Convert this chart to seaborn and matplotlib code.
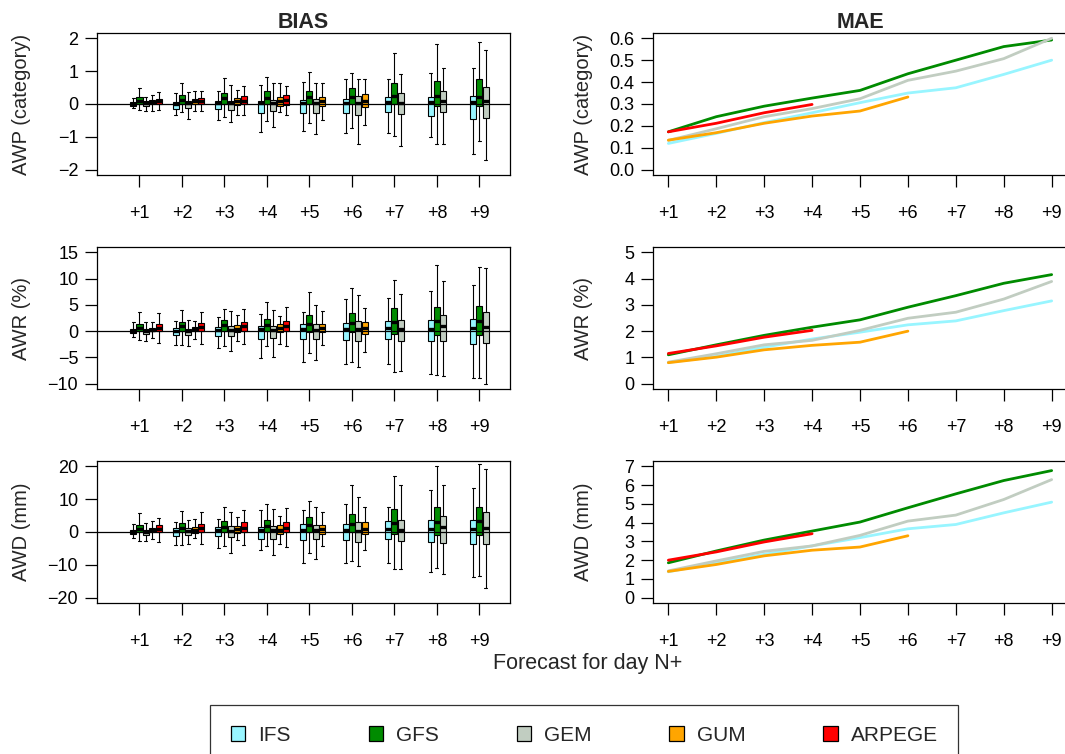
import pandas as pd
import matplotlib
matplotlib.use('Agg')
import matplotlib.pyplot as plt
from matplotlib.patches import Patch
import seaborn as sns

models = ['IFS', 'GFS', 'GEM', 'GUM', 'ARPEGE']
colors = ['#98F5FF', '#008B00', '#C1CDC1', '#FFA500', '#FF0000']
days = [1, 2, 3, 4, 5, 6, 7, 8, 9]
day_labels = ['+1', '+2', '+3', '+4', '+5', '+6', '+7', '+8', '+9']

# BIAS: (whisker low, q1, median, q3, whisker high) per forecast day
awp_ifs = [(-0.12, -0.05, 0.0, 0.05, 0.17), (-0.33, -0.14, 0.0, 0.07, 0.32), (-0.49, -0.16, 0.02, 0.10, 0.41),
           (-0.86, -0.28, 0.03, 0.10, 0.57), (-0.81, -0.26, 0.03, 0.12, 0.66), (-0.87, -0.28, 0.04, 0.14, 0.75),
           (-0.89, -0.24, 0.05, 0.20, 0.75), (-1.00, -0.38, 0.05, 0.20, 0.95), (-1.53, -0.47, 0.06, 0.25, 1.09)]
awp_gfs = [(-0.18, 0.0, 0.10, 0.22, 0.50), (-0.24, 0.0, 0.12, 0.27, 0.65), (-0.41, 0.0, 0.17, 0.33, 0.80),
           (-0.53, 0.0, 0.18, 0.39, 0.82), (-0.59, 0.0, 0.20, 0.40, 0.98), (-0.72, 0.0, 0.22, 0.50, 0.93),
           (-0.96, 0.0, 0.25, 0.63, 1.56), (-1.21, -0.06, 0.25, 0.71, 1.83), (-1.12, -0.07, 0.20, 0.75, 1.89)]
awp_gem = [(-0.20, -0.06, 0.02, 0.09, 0.22), (-0.46, -0.13, 0.02, 0.10, 0.38), (-0.56, -0.18, 0.02, 0.09, 0.58),
           (-0.69, -0.21, 0.03, 0.12, 0.63), (-0.91, -0.26, 0.04, 0.15, 0.65), (-1.23, -0.34, 0.04, 0.24, 0.75),
           (-1.27, -0.31, 0.04, 0.32, 0.92), (-1.21, -0.24, 0.08, 0.41, 1.09), (-1.71, -0.42, 0.10, 0.51, 1.64)]
awp_gum = [(-0.20, 0.0, 0.07, 0.12, 0.27), (-0.20, 0.0, 0.08, 0.14, 0.39), (-0.33, -0.03, 0.08, 0.17, 0.43),
           (-0.24, -0.06, 0.08, 0.22, 0.63), (-0.49, -0.06, 0.08, 0.22, 0.65), (-0.64, -0.08, 0.08, 0.30, 0.75)]
awp_arpege = [(-0.18, 0.0, 0.08, 0.14, 0.37), (-0.20, 0.0, 0.10, 0.17, 0.39), (-0.33, 0.0, 0.10, 0.23, 0.54),
              (-0.33, -0.03, 0.12, 0.27, 0.54)]

awr_ifs = [(-1.15, -0.4, 0.0, 0.45, 1.8), (-2.6, -0.75, 0.1, 0.55, 1.9), (-3.25, -0.9, 0.3, 0.75, 2.6),
           (-5.2, -1.5, 0.35, 1.0, 3.25), (-5.8, -1.5, 0.4, 1.4, 3.6), (-6.2, -1.65, 0.45, 1.55, 6.1),
           (-6.2, -1.4, 0.6, 1.9, 6.3), (-8.1, -1.9, 0.5, 2.15, 7.6), (-9.0, -2.35, 0.55, 2.35, 8.7)]
awr_gfs = [(-1.65, 0.0, 0.6, 1.4, 3.6), (-2.6, 0.0, 0.9, 1.8, 4.0), (-2.8, 0.0, 1.2, 2.1, 4.3),
           (-2.9, 0.0, 1.1, 2.3, 5.5), (-4.1, -0.1, 1.4, 3.0, 7.4), (-5.8, -0.25, 1.5, 3.45, 8.15),
           (-7.8, -0.5, 1.8, 4.4, 9.7), (-8.4, -0.8, 1.9, 4.6, 12.5), (-8.85, -0.75, 2.0, 4.7, 12.2)]
awr_gem = [(-1.8, -0.5, -0.05, 0.4, 1.8), (-2.9, -0.8, 0.1, 0.5, 2.1), (-3.75, -1.0, 0.3, 1.0, 3.8),
           (-4.9, -1.35, 0.3, 1.0, 3.95), (-5.5, -1.4, 0.3, 1.35, 4.9), (-6.9, -1.9, 0.35, 1.9, 6.9),
           (-7.65, -1.85, 0.35, 2.2, 7.0), (-8.6, -1.9, 0.95, 3.1, 9.5), (-10.0, -2.3, 0.75, 3.55, 12.0)]
awr_gum = [(-1.3, 0.0, 0.3, 0.6, 1.8), (-1.4, 0.0, 0.4, 0.75, 2.0), (-1.85, -0.2, 0.5, 1.1, 3.0),
           (-2.4, -0.25, 0.6, 1.3, 2.9), (-2.6, -0.25, 0.6, 1.3, 3.75), (-3.9, -0.5, 0.55, 1.8, 4.4)]
awr_arpege = [(-2.3, 0.0, 0.6, 1.3, 3.4), (-2.5, 0.0, 0.8, 1.5, 3.7), (-2.5, 0.0, 0.9, 1.8, 4.3),
              (-2.9, 0.0, 0.9, 1.9, 4.6)]

awd_ifs = [(-1.8, -0.6, 0.0, 0.7, 2.4), (-4.1, -1.1, 0.2, 1.1, 3.0), (-5.0, -1.3, 0.5, 1.4, 3.9),
           (-5.6, -2.1, 0.6, 1.5, 6.8), (-9.3, -2.4, 0.6, 2.3, 6.6), (-9.4, -2.4, 0.6, 2.4, 8.6),
           (-9.4, -2.0, 0.9, 3.4, 7.5), (-12.1, -3.0, 0.8, 3.5, 12.9), (-13.8, -3.6, 0.8, 3.7, 13.4)]
awd_gfs = [(-2.7, 0.0, 1.0, 2.2, 5.7), (-3.9, 0.0, 1.2, 2.7, 6.5), (-4.4, 0.0, 1.5, 3.3, 7.5),
           (-4.3, 0.0, 1.8, 3.7, 8.4), (-6.3, 0.0, 2.1, 4.7, 9.5), (-8.9, -0.1, 2.4, 5.5, 14.3),
           (-11.4, -0.6, 2.6, 7.0, 17.1), (-11.0, -0.9, 3.0, 7.5, 20.2), (-13.4, -0.9, 3.3, 7.7, 20.6)]
awd_gem = [(-2.7, -0.8, -0.1, 0.7, 2.7), (-3.6, -1.0, 0.2, 1.2, 3.5), (-6.3, -1.5, 0.4, 1.7, 6.2),
           (-6.9, -2.0, 0.5, 1.7, 7.0), (-8.1, -2.0, 0.5, 2.1, 7.7), (-10.2, -2.9, 0.4, 2.9, 10.5),
           (-11.4, -2.7, 0.6, 3.6, 14.3), (-12.9, -3.2, 1.5, 4.8, 14.3), (-17.0, -3.5, 1.3, 6.1, 19.2)]
awd_gum = [(-2.2, -0.1, 0.6, 1.1, 3.3), (-1.8, -0.3, 0.6, 1.4, 3.9), (-2.3, -0.3, 0.8, 1.7, 4.5),
           (-3.7, -0.6, 0.7, 2.0, 5.0), (-4.3, -0.6, 0.8, 2.1, 6.2), (-5.5, -0.6, 1.0, 3.0, 7.7)]
awd_arpege = [(-3.0, 0.0, 1.0, 2.0, 4.4), (-3.6, 0.0, 1.2, 2.3, 6.2), (-4.1, 0.0, 1.3, 3.0, 6.8),
              (-4.6, 0.0, 1.3, 3.1, 7.2)]

# MAE per forecast day
awp_mae_ifs = [0.12, 0.166, 0.215, 0.26, 0.306, 0.35, 0.374, 0.435, 0.5]
awp_mae_gfs = [0.173, 0.242, 0.29, 0.327, 0.362, 0.438, 0.5, 0.562, 0.592]
awp_mae_gem = [0.134, 0.187, 0.242, 0.279, 0.324, 0.408, 0.45, 0.507, 0.6]
awp_mae_gum = [0.135, 0.169, 0.212, 0.245, 0.268, 0.332]
awp_mae_arpege = [0.173, 0.212, 0.26, 0.298]

awr_mae_ifs = [0.81, 1.04, 1.39, 1.7, 1.96, 2.24, 2.39, 2.78, 3.15]
awr_mae_gfs = [1.1, 1.48, 1.84, 2.15, 2.43, 2.91, 3.35, 3.82, 4.15]
awr_mae_gem = [0.82, 1.14, 1.48, 1.65, 2.03, 2.49, 2.72, 3.22, 3.89]
awr_mae_gum = [0.8, 1.01, 1.29, 1.46, 1.58, 2.0]
awr_mae_arpege = [1.15, 1.44, 1.77, 2.03]

awd_mae_ifs = [1.38, 1.87, 2.31, 2.76, 3.2, 3.67, 3.9, 4.52, 5.09]
awd_mae_gfs = [1.86, 2.49, 3.07, 3.55, 4.03, 4.79, 5.53, 6.24, 6.77]
awd_mae_gem = [1.43, 1.96, 2.47, 2.76, 3.32, 4.08, 4.4, 5.23, 6.29]
awd_mae_gum = [1.4, 1.77, 2.23, 2.53, 2.7, 3.3]
awd_mae_arpege = [2.0, 2.44, 2.97, 3.41]

ylabels = ['AWP (category)', 'AWR (%)', 'AWD (mm)']

sns.set_style('ticks')
plt.rcParams['font.family'] = ['Liberation Sans', 'DejaVu Sans']
plt.rcParams['axes.linewidth'] = 0.9
plt.rcParams['axes.edgecolor'] = 'black'
plt.rcParams['xtick.color'] = 'black'
plt.rcParams['ytick.color'] = 'black'
plt.rcParams['xtick.major.width'] = 0.9
plt.rcParams['ytick.major.width'] = 0.9

palette = dict(zip(models, colors))
offsets = {'IFS': -0.15, 'GFS': 0.0, 'GEM': 0.15, 'GUM': 0.30, 'ARPEGE': 0.45}


def box_frame(stats_by_model):
    rows = []
    for model, stats in zip(models, stats_by_model):
        for day, five in zip(days, stats):
            for v in five:
                rows.append({'model': model, 'pos': round(day + offsets[model], 2), 'value': v})
    return pd.DataFrame(rows)


def line_frame(mae_by_model):
    rows = []
    for model, vals in zip(models, mae_by_model):
        for day, v in zip(days, vals):
            rows.append({'model': model, 'day': day, 'value': v})
    return pd.DataFrame(rows)


bias_sets = [
    [awp_ifs, awp_gfs, awp_gem, awp_gum, awp_arpege],
    [awr_ifs, awr_gfs, awr_gem, awr_gum, awr_arpege],
    [awd_ifs, awd_gfs, awd_gem, awd_gum, awd_arpege],
]
mae_sets = [
    [awp_mae_ifs, awp_mae_gfs, awp_mae_gem, awp_mae_gum, awp_mae_arpege],
    [awr_mae_ifs, awr_mae_gfs, awr_mae_gem, awr_mae_gum, awr_mae_arpege],
    [awd_mae_ifs, awd_mae_gfs, awd_mae_gem, awd_mae_gum, awd_mae_arpege],
]
bias_ylim = [(-2.16, 2.16), (-11, 16), (-21.6, 21.6)]
bias_yticks = [[-2, -1, 0, 1, 2], [-10, -5, 0, 5, 10, 15], [-20, -10, 0, 10, 20]]
mae_ylim = [(-0.024, 0.624), (-0.2, 5.2), (-0.28, 7.28)]
mae_yticks = [[0, 0.1, 0.2, 0.3, 0.4, 0.5, 0.6], [0, 1, 2, 3, 4, 5], [0, 1, 2, 3, 4, 5, 6, 7]]
mae_fmt = ['{:.1f}', '{:.0f}', '{:.0f}']

W, H = 1065, 754
fig = plt.figure(figsize=(W / 100, H / 100), dpi=100)
row_top = [33, 247, 461]
panel_h = 142


def style_axis(ax, ylabel, label_x):
    ax.set_xticks(days)
    ax.set_xticklabels(day_labels)
    ax.tick_params(axis='x', length=8.5, pad=13, labelsize=13, direction='out')
    ax.tick_params(axis='y', length=8.5, pad=5, labelsize=13, direction='out')
    ax.set_xlabel('')
    ax.set_ylabel(ylabel, fontsize=14.5)
    ax.yaxis.set_label_coords(label_x, 0.5)
    for s in ax.spines.values():
        s.set_visible(True)
        s.set_color('black')
        s.set_linewidth(0.9)


for i in range(3):
    bottom = 1 - (row_top[i] + panel_h) / H
    ax_b = fig.add_axes([97 / W, bottom, 413 / W, panel_h / H])
    ax_m = fig.add_axes([653 / W, bottom, 414 / W, panel_h / H])

    df = box_frame(bias_sets[i])
    sns.boxplot(data=df, x='pos', y='value', hue='model', hue_order=models, palette=palette,
                native_scale=True, dodge=False, width=0.95, whis=(0, 100), saturation=1,
                linecolor='black', linewidth=0.8, showfliers=False,
                medianprops={'linewidth': 2.4, 'color': 'black'}, legend=False, ax=ax_b)
    ax_b.axhline(0, color='black', linewidth=0.9, zorder=5)
    ax_b.set_xlim(0.0, 9.72)
    ax_b.set_ylim(*bias_ylim[i])
    ax_b.set_yticks(bias_yticks[i])
    style_axis(ax_b, ylabels[i], -0.16)

    dm = line_frame(mae_sets[i])
    sns.lineplot(data=dm, x='day', y='value', hue='model', hue_order=models, palette=palette,
                 linewidth=2.0, legend=False, ax=ax_m)
    ax_m.set_xlim(0.68, 9.32)
    ax_m.set_ylim(*mae_ylim[i])
    ax_m.set_yticks(mae_yticks[i])
    ax_m.set_yticklabels([mae_fmt[i].format(t) for t in mae_yticks[i]])
    style_axis(ax_m, ylabels[i], -0.145)

    if i == 0:
        ax_b.set_title('BIAS', fontsize=15.5, fontweight='bold', pad=3)
        ax_m.set_title('MAE', fontsize=15.5, fontweight='bold', pad=3)

fig.text(588 / W, 1 - 664 / H, 'Forecast for day N+', ha='center', va='center', fontsize=15.5)

handles = [Patch(facecolor=c, edgecolor='black', linewidth=0.9) for c in colors]
leg = fig.legend(handles, models, ncol=5, loc='upper left', bbox_to_anchor=(210 / W, 1 - 705 / H),
                 bbox_transform=fig.transFigure, borderaxespad=0, frameon=True, fancybox=False,
                 fontsize=15, handlelength=0.7, handleheight=0.7, handletextpad=0.6,
                 columnspacing=3.75, borderpad=1.0)
leg.get_frame().set_edgecolor('black')
leg.get_frame().set_linewidth(0.9)

fig.savefig('out.png', dpi=100)
